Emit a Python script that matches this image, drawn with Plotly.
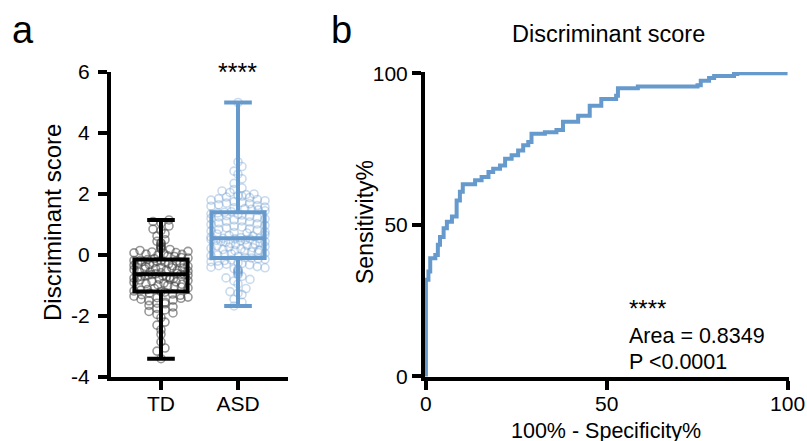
import plotly.graph_objects as go
import numpy as np

W, H = 807, 441
FONT = "Liberation Sans, Arial, Helvetica, sans-serif"

# ---------------- data ----------------
groups = ["TD", "ASD"]
group_pos = [1, 2]
score_ticks = [-4, -2, 0, 2, 4, 6]
score_tick_labels = ["-4", "-2", "0", "2", "4", "6"]
roc_ticks = [0, 50, 100]

td_values = [
    -3.40, -3.15, -3.05, -2.85, -2.60, -2.45, -2.30, -2.20, -2.05, -1.95, -1.90, -1.85,
    -1.80, -1.75, -1.70, -1.65, -1.60, -1.58, -1.55, -1.50, -1.48, -1.45, -1.42, -1.40,
    -1.38, -1.35, -1.32, -1.30, -1.28, -1.25, -1.22, -1.20,
    -1.18, -1.15, -1.13, -1.10, -1.08, -1.05, -1.03, -1.00, -0.98, -0.96, -0.94, -0.92,
    -0.90, -0.88, -0.86, -0.84, -0.82, -0.80, -0.79, -0.77, -0.76, -0.74, -0.73, -0.72,
    -0.70, -0.69, -0.68, -0.67, -0.66, -0.65, -0.64, -0.63,
    -0.62, -0.60, -0.58, -0.56, -0.55, -0.53, -0.51, -0.50, -0.48, -0.46, -0.45, -0.43,
    -0.42, -0.40, -0.38, -0.37, -0.35, -0.34, -0.32, -0.30, -0.29, -0.27, -0.26, -0.25,
    -0.23, -0.22, -0.21, -0.20, -0.19, -0.18, -0.17, -0.15,
    -0.12, -0.10, -0.08, -0.05, -0.03, 0.00, 0.02, 0.03, 0.05, 0.07, 0.08, 0.10,
    0.12, 0.15, 0.18, 0.20, 0.22, 0.25, 0.28, 0.32, 0.38, 0.40, 0.45, 0.50,
    0.62, 0.70, 0.80, 0.85, 0.95, 1.05, 1.10, 1.15,
]
asd_values = [
    -1.67, -1.55, -1.45, -1.30, -1.25, -1.20, -1.10, -0.95, -0.85, -0.80, -0.75, -0.70,
    -0.65, -0.62, -0.58, -0.55, -0.52, -0.50, -0.47, -0.45, -0.42, -0.40, -0.38, -0.35,
    -0.32, -0.30, -0.28, -0.25, -0.22, -0.20, -0.18, -0.16, -0.14, -0.12, -0.10,
    -0.08, -0.05, -0.03, 0.00, 0.02, 0.04, 0.06, 0.08, 0.10, 0.12, 0.14, 0.16,
    0.18, 0.20, 0.22, 0.24, 0.26, 0.28, 0.30, 0.32, 0.34, 0.36, 0.38, 0.40,
    0.42, 0.44, 0.45, 0.47, 0.48, 0.50, 0.51, 0.52, 0.53, 0.54, 0.55,
    0.57, 0.59, 0.62, 0.64, 0.66, 0.69, 0.72, 0.74, 0.76, 0.79, 0.82, 0.84,
    0.86, 0.89, 0.92, 0.94, 0.97, 1.00, 1.02, 1.05, 1.08, 1.10, 1.12, 1.15,
    1.18, 1.20, 1.22, 1.25, 1.27, 1.29, 1.31, 1.33, 1.35, 1.38, 1.40,
    1.42, 1.45, 1.48, 1.50, 1.52, 1.55, 1.57, 1.60, 1.62, 1.65, 1.68, 1.70,
    1.72, 1.75, 1.78, 1.80, 1.82, 1.85, 1.88, 1.90, 1.93, 1.95, 1.98, 2.00,
    2.05, 2.10, 2.15, 2.20, 2.35, 2.50, 2.65, 2.75, 2.90, 3.05, 5.00,
]

# box statistics
box_q1 = [-1.20, -0.10]
box_median = [-0.63, 0.55]
box_q3 = [-0.15, 1.40]
box_low = [-3.40, -1.67]
box_high = [1.15, 5.00]

# ROC curve (100% - specificity, sensitivity)
roc_fpr = [0, 0, 0.7, 1.2, 2.6, 3.3, 3.9, 4.9, 5.8, 7.2, 8.5, 9.4, 10.2, 13.6, 15.4,
           17.3, 18.6, 20.5, 21.9, 23.7, 25.5, 26.9, 28.3, 29.2, 32.9, 36.1, 37.9,
           42.1, 45.3, 48.5, 52.6, 53.1, 58.6, 75.1, 76.0, 78.3, 79.7, 85.2, 86.1, 100]
roc_tpr = [0, 31.9, 34.6, 39.0, 40.0, 43.4, 46.0, 48.9, 51.0, 52.7, 58.0, 60.9, 63.4,
           64.7, 65.8, 67.4, 68.5, 69.6, 71.8, 72.9, 74.5, 76.2, 77.3, 80.0, 80.5,
           81.3, 84.0, 86.0, 89.3, 91.5, 92.6, 95.0, 95.6, 96.0, 97.5, 98.4, 99.1,
           99.7, 100, 100]

# ---------------- geometry helpers ----------------
def px_x(p):
    return p / W

def px_y(p):
    return 1 - p / H

A_X = (111, 288)
B_X = (425, 789)
Y_DOM = (72, 377)
A_XRANGE = [0.351, 2.649]
A_YRANGE = [-4, 6]
B_XRANGE = [-0.25, 100.4]
B_YRANGE = [-0.2, 100.4]

px_per_x = (A_X[1] - A_X[0]) / (A_XRANGE[1] - A_XRANGE[0])


def swarm(values, center, bin_h=0.2, dot_px=8.0, half_width_px=27.0):
    v = np.sort(np.asarray(values, dtype=float))
    bins = np.floor((v - v.min()) / bin_h).astype(int)
    xs = np.zeros_like(v)
    for b in np.unique(bins):
        idx = np.where(bins == b)[0]
        n = len(idx)
        if n == 1:
            xs[idx] = center
            continue
        sp = min(dot_px, 2 * half_width_px / (n - 1))
        slots = sorted([(i - (n - 1) / 2) * sp for i in range(n)], key=lambda s: abs(s))
        for k in range(n):
            xs[idx[k]] = center + slots[(k * 7) % n] / px_per_x
    return xs, v

fig = go.Figure()

point_colors = ["rgba(70,70,70,0.55)", "rgba(102,153,204,0.35)"]
box_colors = ["#000000", "#6699CC"]

for vals, pos, col in zip([td_values, asd_values], group_pos, point_colors):
    xs, ys = swarm(vals, pos)
    fig.add_trace(go.Scatter(
        x=xs, y=ys, mode="markers", xaxis="x", yaxis="y",
        marker=dict(symbol="circle-open", size=8, color=col, line=dict(width=1.6, color=col)),
        showlegend=False, hoverinfo="skip", cliponaxis=False))

for i, g in enumerate(groups):
    fig.add_trace(go.Box(
        x=[group_pos[i]], q1=[box_q1[i]], median=[box_median[i]], q3=[box_q3[i]],
        lowerfence=[box_low[i]], upperfence=[box_high[i]],
        xaxis="x3", yaxis="y3", width=0.69, whiskerwidth=0.52,
        line=dict(color=box_colors[i], width=4), fillcolor="rgba(0,0,0,0)",
        boxpoints=False, showlegend=False, name=g))

fig.add_trace(go.Scatter(
    x=roc_fpr, y=roc_tpr, mode="lines", line=dict(color="#6699CC", width=4, shape="hv"),
    xaxis="x2", yaxis="y2", showlegend=False))

axis_common = dict(showline=True, linecolor="black", linewidth=4, ticks="outside",
                   ticklen=9, tickwidth=4, tickcolor="black", showgrid=False, zeroline=False,
                   automargin=False,
                   tickfont=dict(family=FONT, size=21, color="black"))

fig.update_layout(
    width=W, height=H, margin=dict(l=0, r=0, t=0, b=0, autoexpand=False),
    paper_bgcolor="white", plot_bgcolor="rgba(0,0,0,0)",
    xaxis=dict(domain=[px_x(A_X[0]), px_x(A_X[1])], range=A_XRANGE, anchor="y",
               tickvals=group_pos, ticktext=groups, ticklabelstandoff=-4, **axis_common),
    yaxis=dict(domain=[px_y(Y_DOM[1]), px_y(Y_DOM[0])], range=A_YRANGE, anchor="x",
               tickvals=score_ticks, ticktext=score_tick_labels, ticklabelstandoff=4,
               **axis_common),
    xaxis3=dict(domain=[px_x(A_X[0]), px_x(A_X[1])], range=A_XRANGE, anchor="y3",
                overlaying="x", visible=False),
    yaxis3=dict(domain=[px_y(Y_DOM[1]), px_y(Y_DOM[0])], range=A_YRANGE, anchor="x3",
                overlaying="y", visible=False),
    xaxis2=dict(domain=[px_x(B_X[0]), px_x(B_X[1])], range=B_XRANGE, anchor="y2",
                tickvals=roc_ticks, layer="below traces", ticklabelstandoff=-4,
                **axis_common),
    yaxis2=dict(domain=[px_y(Y_DOM[1]), px_y(Y_DOM[0])], range=B_YRANGE, anchor="x2",
                tickvals=roc_ticks, layer="below traces", **axis_common),
)

def ann(text, x, y, size=21, xanchor="center", yanchor="middle", angle=0):
    fig.add_annotation(text=text, x=px_x(x), y=px_y(y), xref="paper", yref="paper",
                       showarrow=False, xanchor=xanchor, yanchor=yanchor, textangle=angle,
                       font=dict(family=FONT, size=size, color="black"))

ann("a", 10, 30, size=38, xanchor="left")
ann("b", 329, 30, size=38, xanchor="left")
ann("Discriminant score", 52, 222, size=24, angle=-90)
ann("Sensitivity%", 365, 222, size=23, angle=-90)
ann("Discriminant score", 608, 34, size=23.5)
ann("100% - Specificity%", 606, 431, size=21.5)
ann("****", 237, 72, size=25)
ann("****", 627, 308, size=24, xanchor="left")
ann("Area = 0.8349", 627, 336, size=21.5, xanchor="left")
ann("P <0.0001", 627, 362, size=21.5, xanchor="left")

fig.write_html("out.html", config={"displayModeBar": False},
               post_script="document.body.style.margin='0px';")
